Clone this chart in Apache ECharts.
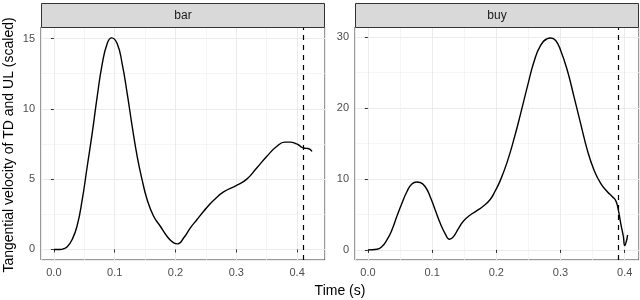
<!DOCTYPE html>
<html>
<head>
<meta charset="utf-8">
<script src="https://cdn.jsdelivr.net/npm/echarts@6/dist/echarts.min.js"></script>
<style>
html,body{margin:0;padding:0;background:#fff;}
#chart{width:640px;height:300px;}
</style>
</head>
<body>
<div id="chart"></div>
<script>
// ---- data ----
const panelNames = ['bar', 'buy'];

const barTime = [0.000, 0.010, 0.016, 0.022, 0.030, 0.038, 0.0466, 0.0548, 0.063, 0.0712, 0.0795, 0.0877, 0.0948, 0.104, 0.1123, 0.1205, 0.1288, 0.137, 0.145, 0.1534, 0.164, 0.175, 0.186, 0.197, 0.2038, 0.2136, 0.2245, 0.2354, 0.2463, 0.2627, 0.279, 0.2997, 0.3172, 0.3335, 0.3499, 0.3662, 0.3798, 0.388, 0.399, 0.405, 0.407, 0.4125, 0.418, 0.4245];
const barVel  = [0.00, 0.00, 0.05, 0.19, 0.71, 1.65, 3.54, 5.90, 8.27, 10.87, 13.20, 14.65, 15.05, 14.65, 13.20, 11.10, 8.74, 6.60, 4.96, 3.54, 2.36, 1.65, 0.94, 0.47, 0.40, 0.83, 1.54, 2.13, 2.72, 3.50, 4.09, 4.54, 5.00, 5.79, 6.61, 7.32, 7.63, 7.63, 7.51, 7.35, 7.28, 7.20, 7.18, 6.97];

const buyTime = [0.000, 0.014, 0.0218, 0.0296, 0.0374, 0.045, 0.053, 0.0607, 0.0685, 0.0763, 0.0815, 0.0893, 0.097, 0.105, 0.1127, 0.1205, 0.1272, 0.1334, 0.1412, 0.149, 0.1594, 0.1698, 0.180, 0.1905, 0.1983, 0.2068, 0.217, 0.2275, 0.2379, 0.2483, 0.2587, 0.269, 0.2795, 0.2847, 0.2925, 0.3003, 0.3106, 0.321, 0.3314, 0.3418, 0.3522, 0.3626, 0.373, 0.3808, 0.386, 0.3896, 0.3938, 0.398, 0.400, 0.4031, 0.4045];
const buyVel  = [0.00, 0.09, 0.47, 1.40, 2.80, 4.70, 6.56, 8.20, 9.28, 9.56, 9.50, 8.90, 7.50, 5.60, 3.75, 2.25, 1.50, 1.88, 3.05, 4.08, 4.92, 5.53, 6.19, 7.10, 8.30, 9.90, 12.40, 15.60, 19.20, 22.97, 26.50, 28.80, 29.77, 29.86, 29.50, 28.10, 25.30, 21.60, 17.80, 14.06, 11.25, 9.38, 8.20, 7.50, 6.94, 5.86, 3.75, 1.87, 0.60, 1.40, 2.10];

const vlineTimes = [0.407, 0.385];

const xLimits = [[-0.0212, 0.4458], [-0.0201, 0.4223]];
const yLimits = [[-0.75, 15.82], [-1.42, 31.4]];

const yTitle = 'Tangential velocity of TD and UL (scaled)';
const xTitle = 'Time (s)';

// ---- layout ----
const FONT = '"Liberation Sans", Arial, Helvetica, sans-serif';
const panelLeft = [41, 355];
const panelWidth = 284;
const panelTop = 27;
const panelHeight = 233;
const stripTop = 3;
const stripH = 24;

const chart = echarts.init(document.getElementById('chart'), null, {renderer: 'canvas'});

const grids = [], xAxes = [], yAxes = [], series = [], graphics = [];
const seriesData = [
  barTime.map((t, i) => [t, barVel[i]]),
  buyTime.map((t, i) => [t, buyVel[i]])
];

for (let p = 0; p < 2; p++) {
  grids.push({
    left: panelLeft[p], top: panelTop, width: panelWidth, height: panelHeight,
    show: true, backgroundColor: '#fff', borderColor: '#333333', borderWidth: 1,
    containLabel: false
  });
  xAxes.push({
    type: 'value', gridIndex: p, min: xLimits[p][0], max: xLimits[p][1], splitNumber: 5,
    axisLine: {show: false},
    axisTick: {show: true, length: 3, lineStyle: {color: '#333333', width: 1}},
    axisLabel: {
      show: true, color: '#4D4D4D', fontSize: 11, fontFamily: FONT, margin: 7,
      showMinLabel: false, showMaxLabel: false,
      formatter: v => (Math.abs(v - Math.round(v * 10) / 10) < 1e-9) ? v.toFixed(1) : ''
    },
    splitLine: {show: true, lineStyle: {color: '#EBEBEB', width: 1}},
    minorTick: {show: false, splitNumber: 2},
    minorSplitLine: {show: true, lineStyle: {color: '#F0F0F0', width: 0.7}}
  });
  yAxes.push({
    type: 'value', gridIndex: p, min: yLimits[p][0], max: yLimits[p][1], splitNumber: 3,
    axisLine: {show: false},
    axisTick: {show: true, length: 3, lineStyle: {color: '#333333', width: 1}},
    axisLabel: {
      show: true, color: '#4D4D4D', fontSize: 11, fontFamily: FONT, margin: 6,
      showMinLabel: false, showMaxLabel: false,
      formatter: v => (Math.abs(v - Math.round(v)) < 1e-9) ? String(Math.round(v)) : ''
    },
    splitLine: {show: true, lineStyle: {color: '#EBEBEB', width: 1}},
    minorTick: {show: false, splitNumber: 2},
    minorSplitLine: {show: true, lineStyle: {color: '#F0F0F0', width: 0.7}}
  });
  series.push({
    type: 'line', xAxisIndex: p, yAxisIndex: p,
    data: seriesData[p], showSymbol: false, symbol: 'none',
    smooth: 0.5,
    lineStyle: {color: '#000', width: 1.4},
    animation: false, silent: true,
    markLine: {
      silent: true, symbol: ['none', 'none'], animation: false,
      label: {show: false},
      lineStyle: {color: '#000', width: 1.2, type: [5, 5]},
      data: [{xAxis: vlineTimes[p]}]
    }
  });
  // strip
  graphics.push({
    type: 'rect', shape: {x: panelLeft[p] + 0.5, y: stripTop + 0.5, width: panelWidth - 1, height: stripH},
    style: {fill: '#D9D9D9', stroke: '#333333', lineWidth: 1}, z: 10
  });
  graphics.push({
    type: 'text', x: panelLeft[p] + panelWidth / 2, y: stripTop + stripH / 2 + 1,
    style: {text: panelNames[p], fill: '#1A1A1A', font: '12px ' + FONT, align: 'center', verticalAlign: 'middle', textAlign: 'center', textVerticalAlign: 'middle'},
    z: 11
  });
}

graphics.push({
  type: 'text', x: 9, y: 145, rotation: Math.PI / 2,
  style: {text: yTitle, fill: '#000', font: '14px ' + FONT, align: 'center', verticalAlign: 'middle', textAlign: 'center', textVerticalAlign: 'middle'}
});
graphics.push({
  type: 'text', x: 340, y: 291,
  style: {text: xTitle, fill: '#000', font: '14px ' + FONT, align: 'center', verticalAlign: 'middle', textAlign: 'center', textVerticalAlign: 'middle'}
});

chart.setOption({
  animation: false,
  backgroundColor: '#fff',
  grid: grids, xAxis: xAxes, yAxis: yAxes, series: series,
  graphic: graphics
});
</script>
</body>
</html>
